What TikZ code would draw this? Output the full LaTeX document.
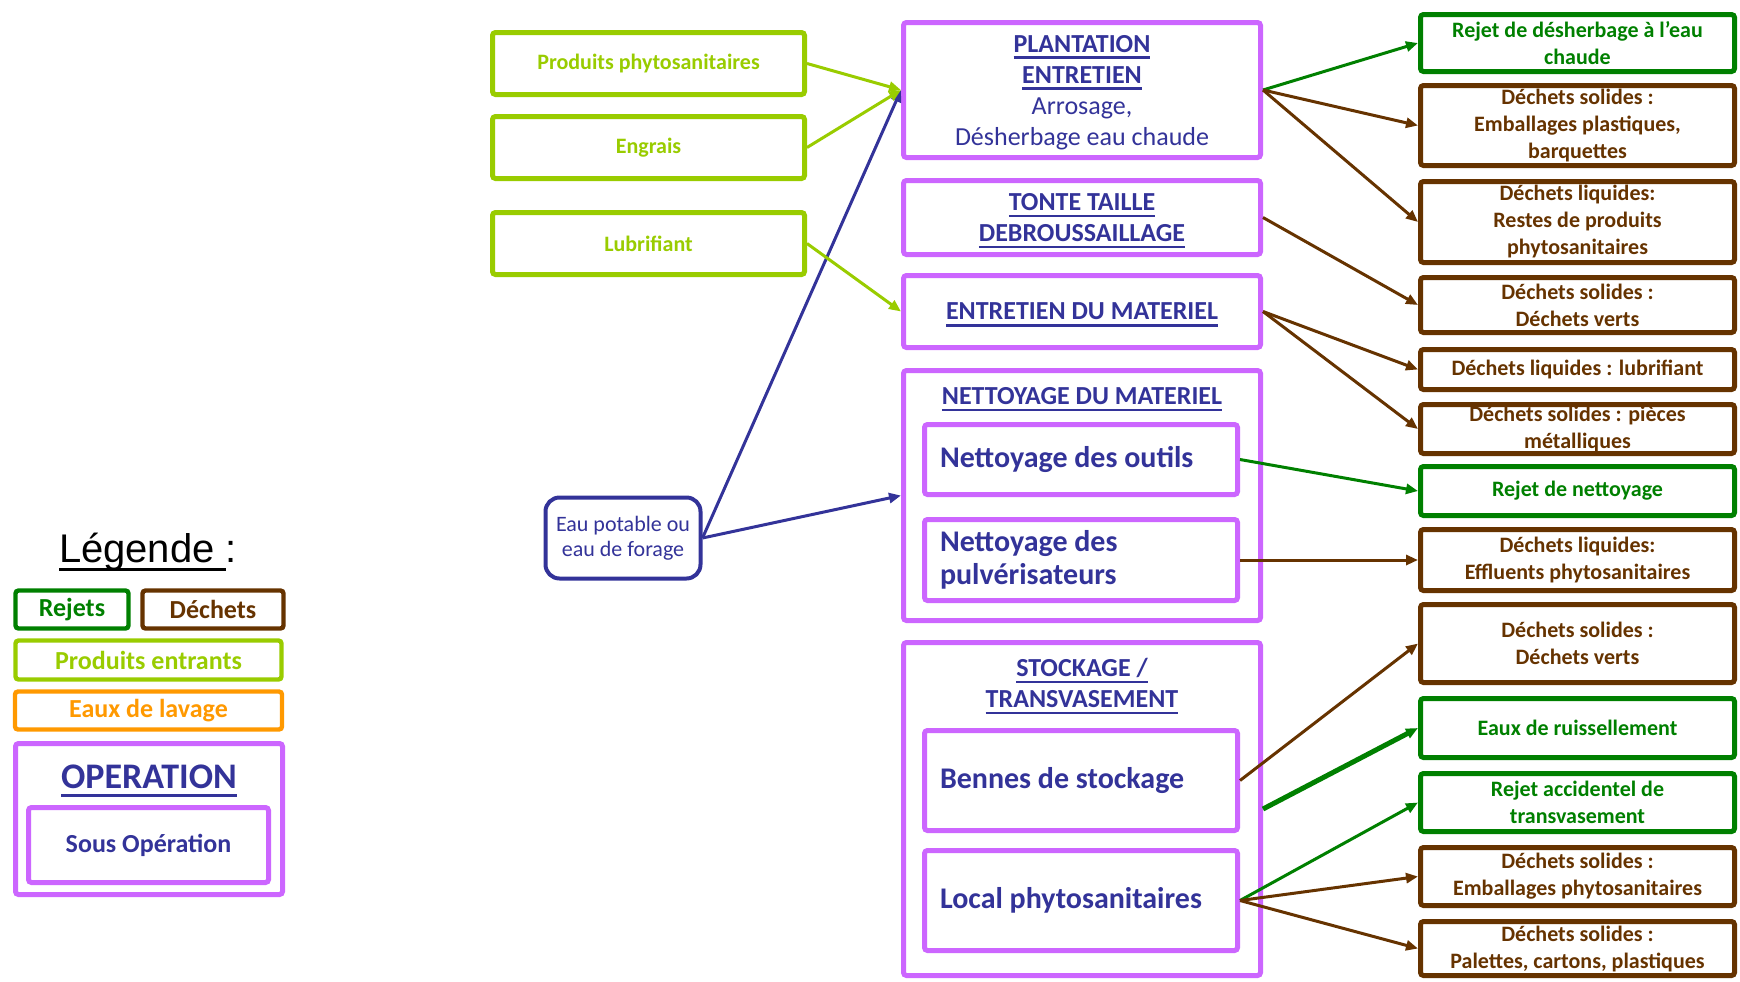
\documentclass[tikz,border=0pt]{standalone}
\usepackage{fontspec}
\setmainfont{Carlito}
\newfontfamily\arialf{Liberation Sans}
\usetikzlibrary{arrows.meta}
\definecolor{opc}{HTML}{CC66FF}
\definecolor{opblue}{HTML}{333399}
\definecolor{lgreen}{HTML}{99CC00}
\definecolor{dgreen}{HTML}{008000}
\definecolor{brn}{HTML}{663300}
\definecolor{orng}{HTML}{FF9900}
\newsavebox\ulbox
\newcommand{\myul}[1]{\sbox\ulbox{#1}\rlap{\rule[-3.4pt]{\wd\ulbox}{1.2pt}}\usebox\ulbox}
\newcommand{\myulbig}[1]{\sbox\ulbox{#1}\rlap{\rule[-4.2pt]{\wd\ulbox}{1.6pt}}\usebox\ulbox}
\newcommand{\fs}[2]{\fontsize{#1}{#2}\selectfont}
\newcommand{\lefttxt}[1]{\parbox{141pt}{\raggedright #1}}
\begin{document}
\begin{tikzpicture}[x=0.5pt,y=-0.5pt,
  base/.style={draw, line width=2.5pt, rounded corners=1.5pt, inner sep=0pt, align=center, fill=white},
  op/.style={base, draw=opc, text=opblue, font=\bfseries\fs{13}{15.5}, minimum width=178.5pt, text depth=0pt},
  optitle/.style={inner sep=0pt, align=center, text=opblue, font=\bfseries\fs{13}{15.5}, text depth=0pt},
  sub/.style={base, draw=opc, text=opblue, font=\bfseries\fs{15}{16.5}, minimum width=156.5pt},
  inp/.style={base, draw=lgreen, text=lgreen, font=\bfseries\fs{11}{13.5}, minimum width=156pt, minimum height=31pt},
  dech/.style={base, draw=brn, text=brn, font=\bfseries\fs{11}{13.5}, minimum width=157pt},
  rej/.style={base, draw=dgreen, text=dgreen, font=\bfseries\fs{11}{13.2}, minimum width=157pt},
  legbox/.style={base, line width=2.2pt, font=\bfseries\fs{13}{15}},
  eaubox/.style={draw=opblue, line width=2pt, rounded corners=7pt, inner sep=0pt, align=center, text=opblue, fill=white, font=\fs{11}{12.5}, minimum width=77.5pt, minimum height=40.5pt},
  tip/.style={-{Triangle[length=6pt,width=5pt]}},
  blu/.style={tip, draw=opblue, fill=opblue, line width=1.5pt},
  lg/.style={tip, draw=lgreen, fill=lgreen, line width=1.5pt},
  dg/.style={tip, draw=dgreen, fill=dgreen, line width=1.5pt},
  br/.style={tip, draw=brn, fill=brn, line width=1.5pt}
]
\useasboundingbox (0,0) rectangle (1740,981);

% inputs
\node[inp] (prod) at (648.5,63.5) {Produits phytosanitaires};
\node[inp] (engrais) at (648.5,147.5) {Engrais};
\node[inp] (lubri) at (648.5,243.5) {Lubrifiant};
\node[eaubox] (eau) at (623,538) {Eau potable ou\\eau de forage};

% operations
\node[op, minimum height=67.5pt] (plant) at (1082,90) {\myul{PLANTATION}\\\myul{ENTRETIEN}\\{\mdseries Arrosage,}\\{\mdseries Désherbage eau chaude}};
\node[op, minimum height=37pt] (tonte) at (1082,217.5) {\myul{TONTE TAILLE}\\\myul{DEBROUSSAILLAGE}};
\node[op, minimum height=36pt] (entmat) at (1082,311.5) {\myul{ENTRETIEN DU MATERIEL}};
\node[op, minimum height=125pt] (nett) at (1082,495.5) {};
\node[optitle] (nettT) at (1082,396) {\myul{NETTOYAGE DU MATERIEL}};
\node[op, minimum height=166.5pt] (stock) at (1082,809) {};
\node[optitle] (stockT) at (1082,682.5) {\myul{STOCKAGE /}\\\myul{TRANSVASEMENT}};

% sub operations
\node[sub, minimum height=35pt] (outils) at (1081,459.5) {\lefttxt{Nettoyage des outils}};
\node[sub, minimum height=40.5pt] (pulv) at (1081,560) {\lefttxt{Nettoyage des\\pulvérisateurs}};
\node[sub, minimum height=50pt] (bennes) at (1081,780.5) {\lefttxt{Bennes de stockage}};
\node[sub, minimum height=50pt] (local) at (1081,900.5) {\lefttxt{Local phytosanitaires}};

% outputs
\node[rej, minimum height=28.5pt] (r1) at (1577.5,43) {Rejet de désherbage à l’eau\\chaude};
\node[dech, minimum height=40pt] (d1) at (1577.5,125.5) {Déchets solides :\\Emballages plastiques,\\barquettes};
\node[dech, minimum height=40.5pt] (d2) at (1577.5,222) {Déchets liquides:\\Restes de produits\\phytosanitaires};
\node[dech, minimum height=27.5pt] (d3) at (1577.5,305) {Déchets solides :\\Déchets verts};
\node[dech, minimum height=20pt] (d4) at (1577.5,369.5) {Déchets liquides : lubrifiant};
\node[dech, minimum height=24.5pt] (d5) at (1577.5,429) {Déchets solides : pièces\\métalliques};
\node[rej, minimum height=24.5pt] (r2) at (1577.5,491) {Rejet de nettoyage};
\node[dech, minimum height=30.5pt] (d6) at (1577.5,560) {Déchets liquides:\\Effluents phytosanitaires};
\node[dech, minimum height=39pt] (d7) at (1577.5,643.5) {Déchets solides :\\Déchets verts};
\node[rej, minimum height=29.5pt] (r3) at (1577.5,728) {Eaux de ruissellement};
\node[rej, minimum height=29pt] (r4) at (1577.5,802.5) {Rejet accidentel de\\transvasement};
\node[dech, minimum height=29pt] (d8) at (1577.5,876.5) {Déchets solides :\\Emballages phytosanitaires};
\node[dech, minimum height=27pt] (d9) at (1577.5,948.5) {Déchets solides :\\Palettes, cartons, plastiques};

% legend
\node[inner sep=0pt, font=\arialf\fs{20}{24}, text depth=0pt] (leg) at (148,548) {\myulbig{Légende }:};
\node[legbox, draw=dgreen, text=dgreen, minimum width=56.5pt, minimum height=19pt] (lrej) at (72,609.5) {Rejets};
\node[legbox, draw=brn, text=brn, minimum width=70.5pt, minimum height=19pt] (ldech) at (213,609.5) {Déchets};
\node[legbox, draw=lgreen, text=lgreen, minimum width=133pt, minimum height=19.5pt] (lprod) at (148.5,660) {Produits entrants};
\node[legbox, draw=orng, text=orng, minimum width=133.5pt, minimum height=19pt] (leaux) at (148.5,710.5) {Eaux de lavage};
\node[op, minimum width=133.5pt, minimum height=75.5pt] (lop) at (149,819) {};
\node[optitle, font=\bfseries\fs{18}{20}] (lopT) at (149,777) {\myulbig{OPERATION}};
\node[base, draw=opc, text=opblue, font=\bfseries\fs{13}{15}, minimum width=120pt, minimum height=37.5pt] (lsous) at (148.5,845) {Sous Opération};

% connectors
\draw[blu] (eau.east) -- (plant.west);
\draw[blu] (eau.east) -- (nett.west);
\draw[lg] (prod.east) -- (plant.west);
\draw[lg] (engrais.east) -- (plant.west);
\draw[lg] (lubri.east) -- (entmat.west);
\draw[dg] (plant.east) -- (r1.west);
\draw[br] (plant.east) -- (d1.west);
\draw[br] (plant.east) -- (d2.west);
\draw[br] (tonte.east) -- (d3.west);
\draw[br] (entmat.east) -- (d4.west);
\draw[br] (entmat.east) -- (d5.west);
\draw[dg] (outils.east) -- (r2.west);
\draw[br] (pulv.east) -- (d6.west);
\draw[br] (bennes.east) -- (d7.west);
\draw[dg, line width=2.5pt] (stock.east) -- (r3.west);
\draw[dg] (local.east) -- (r4.west);
\draw[br] (local.east) -- (d8.west);
\draw[br] (local.east) -- (d9.west);
\end{tikzpicture}
\end{document}
